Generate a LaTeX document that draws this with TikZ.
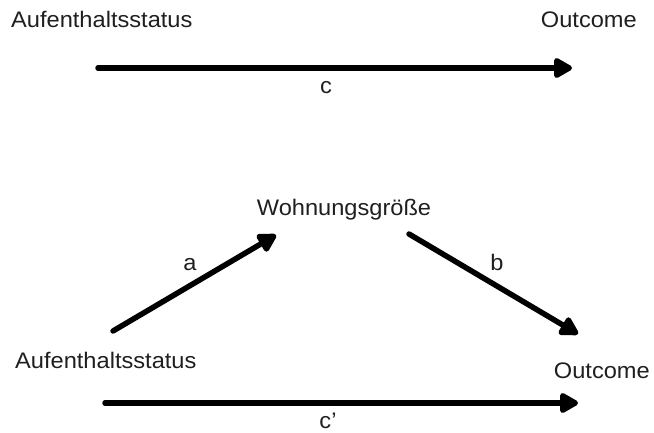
\documentclass[tikz,border=0pt]{standalone}
\usepackage{fontspec}
\setmainfont{Liberation Sans}
\newfontfamily\labfont[FakeStretch=1.05]{Liberation Sans}
\usetikzlibrary{arrows.meta}
\begin{document}
\begin{tikzpicture}[x=1pt,y=-1pt,
  lbl/.style={inner sep=0pt,font=\labfont\fontsize{22.5}{22.5}\selectfont,text=black!88},
  pathline/.style={line width=5.5pt,line cap=round,-{Triangle[length=21pt,width=22pt,round=false]}}]
\useasboundingbox (0,0) rectangle (654,433);
% top panel
\node[lbl,anchor=base west] (x1) at (11,27.5) {Aufenthaltsstatus};
\node[lbl,anchor=base east] (y1) at (637,27.5) {Outcome};
\coordinate (c1s) at (98,68);
\coordinate (c1e) at (572,68);
\draw[pathline] (c1s) -- (c1e);
\node[lbl,anchor=base] (lc) at (326,94) {c};
% bottom panel
\node[lbl,anchor=base] (m) at (344,216) {Wohnungsgröße};
\node[lbl,anchor=base west] (x2) at (15,368) {Aufenthaltsstatus};
\node[lbl,anchor=base east] (y2) at (650,378) {Outcome};
\coordinate (as) at (113,331);
\coordinate (ae) at (276,235);
\coordinate (bs) at (409,234);
\coordinate (be) at (578,334);
\draw[pathline] (as) -- (ae);
\draw[pathline] (bs) -- (be);
\node[lbl,anchor=base] (la) at (190,270) {a};
\node[lbl,anchor=base] (lb) at (497,270) {b};
\coordinate (c2s) at (105,403);
\coordinate (c2e) at (578,403);
\draw[pathline] (c2s) -- (c2e);
\node[lbl,anchor=base] (lc2) at (328,428) {c’};
\end{tikzpicture}
\end{document}
